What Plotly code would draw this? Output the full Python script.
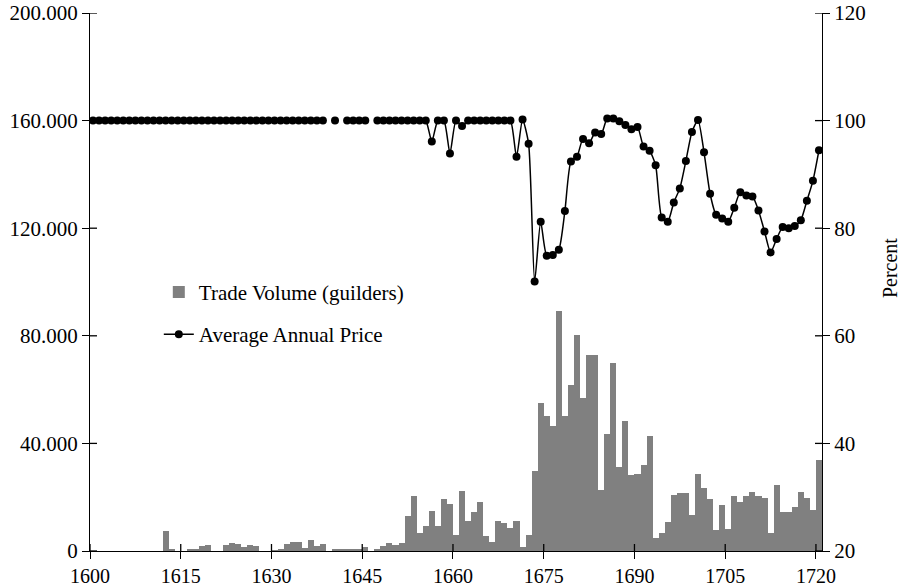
import plotly.graph_objects as go

# Years covered by the series
years = list(range(1600, 1721))

# Trade volume per year, in guilders
volume = [
    0, 0, 0, 0, 0, 0, 0, 0, 0, 0, 0, 0,            # 1600-1611
    7400, 600, 0, 0, 500, 500, 1900, 2200,          # 1612-1619
    0, 0, 2200, 3000, 2600, 1500, 2200, 1900,       # 1620-1627
    0, 0, 200, 500, 2700, 3300, 3300, 1100,         # 1628-1635
    4100, 1700, 2700, 0, 600, 600, 600, 600,        # 1636-1643
    600, 1500, 0, 400, 2000, 3000, 2200, 3000,      # 1644-1651
    13000, 20400, 6800, 9300, 15000, 9300, 19300, 17500,   # 1652-1659
    5900, 22300, 11300, 14600, 18200, 5700, 3500, 11200,   # 1660-1667
    10500, 8700, 11200, 1600, 5900, 29700, 54900, 50200,   # 1668-1675
    46500, 89200, 50200, 61700, 80300, 56900, 72900, 72900,  # 1676-1683
    22700, 43500, 70000, 31300, 48300, 28400, 28700, 32100,  # 1684-1691
    42800, 4800, 6700, 10900, 20800, 21600, 21600, 13400,    # 1692-1699
    28600, 23400, 19300, 7800, 17100, 8200, 20400, 18200,    # 1700-1707
    20400, 21900, 20400, 19700, 6800, 24500, 14500, 14500,   # 1708-1715
    16400, 21900, 19700, 15200, 33800,                       # 1716-1720
]

# Average annual price, percent (None = no observation)
price = (
    [100.0] * 39                                   # 1600-1638
    + [None, 100.0, None]                          # 1639-1641
    + [100.0] * 4                                  # 1642-1645
    + [None]                                       # 1646
    + [100.0] * 9                                  # 1647-1655
    + [96.1, 100.0, 100.0, 93.9, 100.0, 99.0]      # 1656-1661
    + [100.0] * 8                                  # 1662-1669
    + [93.3, 100.2, 95.7, 70.1, 81.2, 74.9, 75.0, 76.0,      # 1670-1677
       83.2, 92.4, 93.3, 96.6, 95.8, 97.8, 97.5, 100.4,      # 1678-1685
       100.4, 99.9, 99.2, 98.4, 98.8, 95.2, 94.4, 91.7,      # 1686-1693
       82.0, 81.2, 84.8, 87.4, 92.5, 97.9, 100.1, 94.1,      # 1694-1701
       86.4, 82.5, 81.8, 81.2, 83.8, 86.7, 86.1, 85.9,       # 1702-1709
       83.3, 79.4, 75.5, 78.0, 80.2, 80.0, 80.4, 81.5,       # 1710-1717
       85.1, 88.8, 94.5]                                     # 1718-1720
)

x_ticks = list(range(1600, 1721, 15))
left_ticks = [0, 40000, 80000, 120000, 160000, 200000]
right_ticks = [20, 40, 60, 80, 100, 120]

# each year occupies the interval [year, year + 1]; marks sit at its middle
centers = [y + 0.5 for y in years]

FONT = "Liberation Serif, Times New Roman, serif"
X_RANGE = [1600, 1721]
TICK_LEN = 7
TICK_W = 1.3

fig = go.Figure()

fig.add_trace(go.Bar(
    x=centers, y=volume, width=1.0,
    marker=dict(color="#808080", line=dict(width=0)),
    name="Trade Volume (guilders)",
    legendgroup="vol",
    xaxis="x", yaxis="y",
))

fig.add_trace(go.Scatter(
    x=centers, y=price,
    mode="lines+markers",
    line=dict(color="black", width=1.5, shape="spline", smoothing=0.6),
    marker=dict(color="black", size=8, symbol="circle"),
    connectgaps=False,
    name="Average Annual Price",
    legendgroup="price",
    xaxis="x", yaxis="y2",
))

# Tick marks cross the axis lines: the outer half comes from the axes,
# the inner half is drawn here as short pixel-sized segments.
tick_line = dict(color="black", width=TICK_W)
for t in x_ticks:
    fig.add_shape(type="line", xref="x", yref="paper", ysizemode="pixel",
                  yanchor=0, x0=t, x1=t, y0=0, y1=TICK_LEN, line=tick_line)
for t in left_ticks:
    fig.add_shape(type="line", xref="paper", yref="y", xsizemode="pixel",
                  xanchor=0, x0=0, x1=TICK_LEN, y0=t, y1=t, line=tick_line)
for t in right_ticks:
    fig.add_shape(type="line", xref="paper", yref="y2", xsizemode="pixel",
                  xanchor=1, x0=-TICK_LEN, x1=0, y0=t, y1=t, line=tick_line)

# Right-hand axis title
fig.add_annotation(
    text="Percent", textangle=-90, showarrow=False,
    xref="paper", yref="paper", x=1.093, y=0.526,
    xanchor="center", yanchor="middle",
    font=dict(family=FONT, size=20, color="black"),
)

axis_common = dict(
    showgrid=False, zeroline=False, automargin=False,
    tickcolor="black", tickwidth=TICK_W,
)

fig.update_layout(
    width=910, height=588,
    margin=dict(l=90, r=88, t=13, b=37),
    paper_bgcolor="white", plot_bgcolor="white",
    separators=",.",
    bargap=0,
    showlegend=True,
    legend=dict(
        x=0.094, y=0.519, xanchor="left", yanchor="top",
        bgcolor="rgba(0,0,0,0)",
        font=dict(family=FONT, size=21, color="black"),
        tracegroupgap=12, itemwidth=30,
    ),
    xaxis=dict(
        range=X_RANGE, tickvals=x_ticks, ticks="outside", ticklen=TICK_LEN,
        showline=True, linecolor="black", linewidth=TICK_W,
        tickfont=dict(family=FONT, size=20, color="black"),
        **axis_common,
    ),
    yaxis=dict(
        range=[0, 200000], tickvals=left_ticks, tickformat=",d",
        ticks="outside", ticklen=TICK_LEN,
        showline=True, linecolor="black", linewidth=TICK_W,
        tickfont=dict(family=FONT, size=21, color="black"),
        **axis_common,
    ),
    yaxis2=dict(
        range=[20, 120], tickvals=right_ticks,
        overlaying="y", side="right", anchor="x",
        ticks="outside", ticklen=TICK_LEN,
        showline=True, linecolor="black", linewidth=TICK_W,
        tickfont=dict(family=FONT, size=21, color="black"),
        **axis_common,
    ),
)

fig.write_html("out.html")
